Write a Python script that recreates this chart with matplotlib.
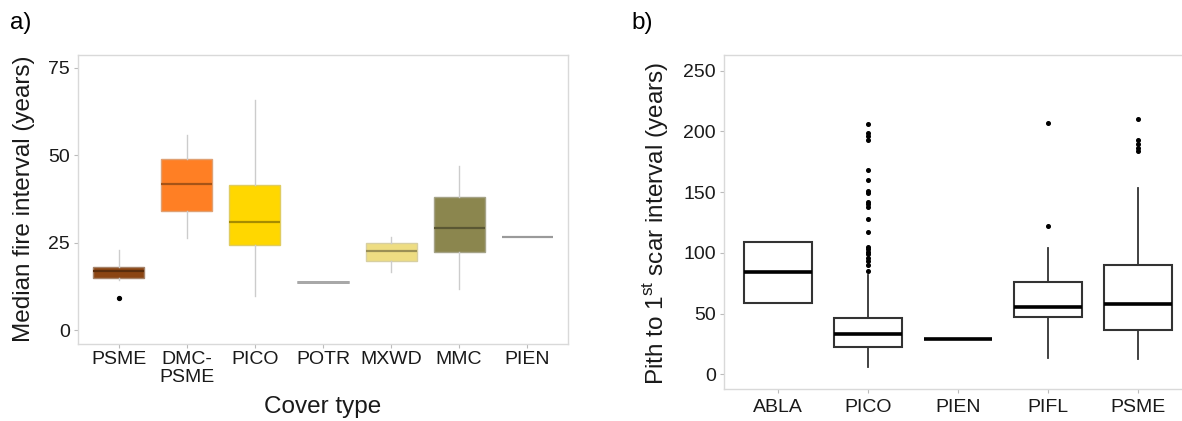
import matplotlib
matplotlib.use("Agg")
import matplotlib.pyplot as plt
from matplotlib.colors import to_rgb

plt.rcParams['font.family'] = ['Liberation Sans', 'DejaVu Sans']
plt.rcParams['mathtext.fontset'] = 'custom'
plt.rcParams['mathtext.rm'] = 'Liberation Sans'

# ---------------- Panel a data ----------------
a_labels = ["PSME", "DMC-\nPSME", "PICO", "POTR", "MXWD", "MMC", "PIEN"]
a_q1 = [14.9, 34.0, 24.3, 13.6, 19.8, 22.3, 26.7]
a_med = [16.9, 41.8, 30.9, 13.6, 22.7, 29.3, 26.7]
a_q3 = [18.1, 48.9, 41.5, 13.6, 24.8, 38.1, 26.7]
a_lo = [14.3, 26.2, 9.7, 13.6, 16.7, 11.7, 26.7]
a_hi = [22.9, 55.8, 65.8, 13.6, 26.7, 46.8, 26.7]
a_fliers = [[9.2], [], [], [], [], [], []]
a_colors = ["#8B4513", "#FF7F24", "#FFD700", "#A8A8A8", "#EEDD82", "#8B864E", "#9A9A9A"]

# ---------------- Panel b data ----------------
b_labels = ["ABLA", "PICO", "PIEN", "PIFL", "PSME"]
b_q1 = [59.0, 22.2, 29.0, 46.9, 36.5]
b_med = [84.5, 33.2, 29.0, 55.1, 58.2]
b_q3 = [108.9, 46.6, 29.0, 75.7, 89.8]
b_lo = [59.0, 5.7, 29.0, 13.2, 12.3]
b_hi = [108.9, 81.7, 29.0, 104.0, 153.5]
b_fliers = [
    [],
    [206, 199, 196, 193, 168, 160, 151, 149, 142, 140, 138, 128, 117,
     105, 103, 101, 99, 96, 93, 90, 85],
    [],
    [207, 122],
    [210, 193, 189.5, 186.5, 184],
]

W, H = 1182, 421
fig = plt.figure(figsize=(W / 100, H / 100), dpi=100)


def frac(l, t, r, b):
    return [l / W, 1 - b / H, (r - l) / W, (b - t) / H]


def mix(c1, c2, t):
    a = to_rgb(c1)
    b = to_rgb(c2)
    return tuple(a[i] * (1 - t) + b[i] * t for i in range(3))


def style_axes(ax):
    for s in ax.spines.values():
        s.set_color("#D9D9D9")
        s.set_linewidth(1.0)
    ax.tick_params(axis="both", colors="#BBBBBB", length=3, width=0.8,
                   labelcolor="#1a1a1a", labelsize=14)


# ---------------- Panel a ----------------
axa = fig.add_axes(frac(78, 55, 568, 344))
stats_a = []
for i in range(len(a_labels)):
    stats_a.append(dict(med=a_med[i], q1=a_q1[i], q3=a_q3[i],
                        whislo=a_lo[i], whishi=a_hi[i], fliers=a_fliers[i]))
pos_a = list(range(len(a_labels)))
bp = axa.bxp(stats_a, positions=pos_a, widths=0.75, patch_artist=True,
             showcaps=False, showfliers=True)
for i, box in enumerate(bp["boxes"]):
    c = a_colors[i]
    if a_q1[i] == a_q3[i]:
        box.set_facecolor("none")
        box.set_edgecolor(c)
        box.set_linewidth(2.0 if i == 3 else 1.5)
    else:
        box.set_facecolor(c)
        box.set_edgecolor(mix(c, "#C0C0C0", 0.5))
        box.set_linewidth(1.0)
for i, m in enumerate(bp["medians"]):
    c = a_colors[i]
    if a_q1[i] == a_q3[i]:
        m.set_color(c)
        m.set_linewidth(2.0 if i == 3 else 1.5)
    else:
        m.set_color(mix(c, "#000000", 0.35))
        m.set_linewidth(1.6)
for w in bp["whiskers"]:
    w.set_color("#CCCCCC")
    w.set_linewidth(1.0)
for f in bp["fliers"]:
    f.set_marker("o")
    f.set_markerfacecolor("black")
    f.set_markeredgecolor("black")
    f.set_markersize(2.8)
axa.set_xlim(-0.6, 6.6)
axa.set_ylim(-4.0, 78.7)
axa.set_yticks([0, 25, 50, 75])
axa.set_xticks(pos_a)
axa.set_xticklabels(a_labels, linespacing=1.05)
style_axes(axa)
axa.tick_params(axis="x", pad=2)
axa.tick_params(axis="y", pad=3)

fig.text(24 / W, 1 - 199 / H, "Median fire interval (years)", rotation=90,
         ha="center", va="center", fontsize=17.5, color="#1a1a1a")
fig.text(323 / W, 1 - 407 / H, "Cover type", ha="center", va="center",
         fontsize=17.5, color="#1a1a1a")
fig.text(10 / W, 1 - 23 / H, "a)", ha="left", va="center", fontsize=17.5,
         color="black")

# ---------------- Panel b ----------------
axb = fig.add_axes(frac(724, 55, 1192, 389))
stats_b = []
for i in range(len(b_labels)):
    stats_b.append(dict(med=b_med[i], q1=b_q1[i], q3=b_q3[i],
                        whislo=b_lo[i], whishi=b_hi[i], fliers=b_fliers[i]))
pos_b = list(range(len(b_labels)))
bpb = axb.bxp(stats_b, positions=pos_b, widths=0.75, patch_artist=True,
              showcaps=False, showfliers=True)
for box in bpb["boxes"]:
    box.set_facecolor("white")
    box.set_edgecolor("#333333")
    box.set_linewidth(1.5)
for m in bpb["medians"]:
    m.set_color("black")
    m.set_linewidth(2.6)
for w in bpb["whiskers"]:
    w.set_color("#333333")
    w.set_linewidth(1.3)
for f in bpb["fliers"]:
    f.set_marker("o")
    f.set_markerfacecolor("black")
    f.set_markeredgecolor("black")
    f.set_markersize(2.6)
axb.set_xlim(-0.6, 4.6)
axb.set_ylim(-12.1, 262.9)
axb.set_yticks([0, 50, 100, 150, 200, 250])
axb.set_xticks(pos_b)
axb.set_xticklabels(b_labels)
style_axes(axb)
axb.tick_params(axis="x", pad=4)
axb.tick_params(axis="y", pad=3)

fig.text(655 / W, 1 - 223 / H, r"Pith to 1$^{\mathrm{st}}$ scar interval (years)",
         rotation=90, ha="center", va="center", fontsize=17.5, color="#1a1a1a")
fig.text(631 / W, 1 - 23 / H, "b)", ha="left", va="center", fontsize=17.5,
         color="black")

fig.savefig("out.png", dpi=100, facecolor="white")
